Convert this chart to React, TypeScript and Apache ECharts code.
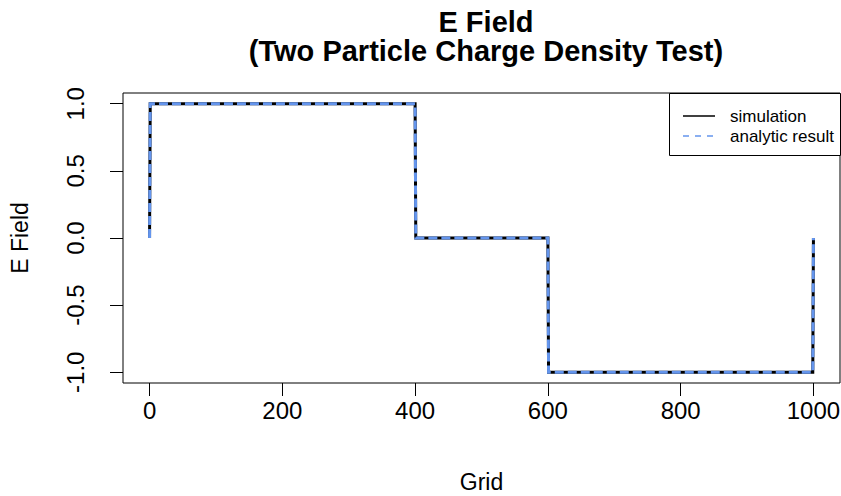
import React, { useEffect, useRef } from "react";
import * as echarts from "echarts";

const gridPoints = [0, 1, 400, 401, 600, 601, 999, 1000];
const simulationE = [0, 1, 1, 0, 0, -1, -1, 0];
const analyticE = [0, 1, 1, 0, 0, -1, -1, 0];
const xTicks = [0, 200, 400, 600, 800, 1000];
const yTicks = [-1, -0.5, 0, 0.5, 1];
const legendNames = ["simulation", "analytic result"];

const FONT = "Liberation Sans, Arial, sans-serif";

export default function App() {
  const ref = useRef<HTMLDivElement>(null);
  useEffect(() => {
    const chart = echarts.init(ref.current!, null, { renderer: "svg" });
    const sim = gridPoints.map((x, i) => [x, simulationE[i]]);
    const ana = gridPoints.map((x, i) => [x, analyticE[i]]);
    chart.setOption({
      animation: false,
      backgroundColor: "#ffffff",
      title: {
        text: "E Field\n(Two Particle Charge Density Test)",
        left: 481,
        top: 2,
        textAlign: "center",
        textStyle: {
          fontFamily: FONT,
          fontWeight: "bold",
          fontSize: 29,
          lineHeight: 29,
          color: "#000",
        },
      },
      grid: {
        left: 123,
        right: 1,
        top: 93,
        bottom: 113,
        show: true,
        borderColor: "#000",
        borderWidth: 1,
        backgroundColor: "transparent",
        outerBoundsMode: "none",
        containLabel: false,
      },
      xAxis: {
        type: "value",
        min: -40,
        max: 1040,
        name: "Grid",
        nameLocation: "middle",
        nameGap: 87,
        nameTextStyle: { fontFamily: FONT, fontSize: 23, color: "#000" },
        axisLine: { show: false, onZero: false },
        splitLine: { show: false },
        axisTick: {
          show: true,
          length: 13,
          customValues: xTicks,
          lineStyle: { color: "#000", width: 1 },
        },
        axisLabel: {
          customValues: xTicks,
          margin: 15,
          fontFamily: FONT,
          fontSize: 24,
          color: "#000",
          formatter: (v: number) => String(v),
        },
      },
      yAxis: {
        type: "value",
        min: -1.08,
        max: 1.08,
        name: "E Field",
        nameLocation: "middle",
        nameGap: 92,
        nameRotate: 90,
        nameTextStyle: { fontFamily: FONT, fontSize: 23, color: "#000" },
        axisLine: { show: false, onZero: false },
        splitLine: { show: false },
        axisTick: {
          show: true,
          length: 13,
          customValues: yTicks,
          lineStyle: { color: "#000", width: 1 },
        },
        axisLabel: {
          customValues: yTicks,
          rotate: 90,
          margin: 36,
          fontFamily: FONT,
          fontSize: 24,
          color: "#000",
          formatter: (v: number) => v.toFixed(1),
        },
      },
      series: [
        {
          name: legendNames[0],
          type: "line",
          data: sim,
          showSymbol: false,
          lineStyle: { color: "#000000", width: 3, join: "miter" },
          z: 2,
        },
        {
          name: legendNames[1],
          type: "line",
          data: ana,
          showSymbol: false,
          lineStyle: {
            color: "#6495ED",
            width: 3,
            type: [9, 4],
            join: "miter",
          },
          z: 3,
        },
      ],
      graphic: [
        {
          type: "rect",
          shape: { x: 669.5, y: 93.5, width: 171, height: 62 },
          style: { fill: "#fff", stroke: "#000", lineWidth: 1 },
          z: 10,
        },
        {
          type: "line",
          shape: { x1: 683, y1: 116, x2: 715, y2: 116 },
          style: { stroke: "#000", lineWidth: 1.5 },
          z: 11,
        },
        {
          type: "line",
          shape: { x1: 683, y1: 136, x2: 715, y2: 136 },
          style: { stroke: "#6495ED", lineWidth: 1.5, lineDash: [6, 6] },
          z: 11,
        },
        {
          type: "text",
          x: 730,
          y: 116,
          style: {
            text: legendNames[0],
            fontFamily: FONT,
            fontSize: 17,
            fill: "#000",
            verticalAlign: "middle",
          },
          z: 11,
        },
        {
          type: "text",
          x: 730,
          y: 136,
          style: {
            text: legendNames[1],
            fontFamily: FONT,
            fontSize: 17,
            fill: "#000",
            verticalAlign: "middle",
          },
          z: 11,
        },
      ],
    });
    return () => chart.dispose();
  }, []);
  return (
    <div
      ref={ref}
      style={{ position: "fixed", left: 0, top: 0, width: 841, height: 496 }}
    />
  );
}
